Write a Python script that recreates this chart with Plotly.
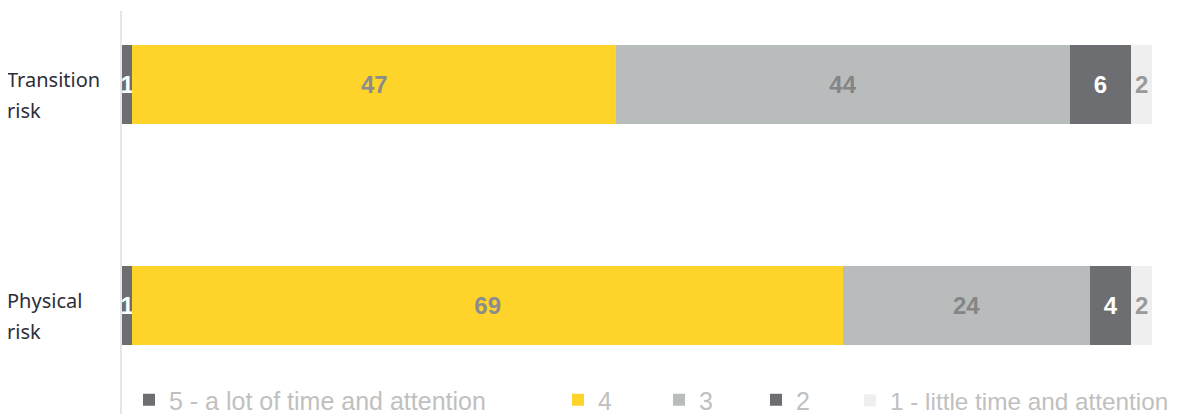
import plotly.graph_objects as go

categories = ["Transition risk", "Physical risk"]
cat_lines = [["Transition", "risk"], ["Physical", "risk"]]
series_names = ["5 - a lot of time and attention", "4", "3", "2", "1 - little time and attention"]
values = {
    "5 - a lot of time and attention": [1, 1],
    "4": [47, 69],
    "3": [44, 24],
    "2": [6, 4],
    "1 - little time and attention": [2, 2],
}
colors = ["#6d6e71", "#fed42a", "#b9bcbd", "#6d6e71", "#efefef"]
label_colors = ["#ffffff", "#8c8c8c", "#858585", "#ffffff", "#9a9a9a"]

# page body has an 8px default margin; compensate so the visible layout matches
OFF = 8
W, H = 1181, 414
plot_left, plot_right, plot_top, plot_bottom = 122, 1152, 11, 414  # screen px
L = plot_left - OFF
T = plot_top - OFF
R = W - (plot_right - OFF)
B = H - (plot_bottom - OFF)
plot_w = plot_right - plot_left
plot_h = plot_bottom - plot_top
legend_px = [129, 558, 659, 756, 850]  # screen px of legend boxes
legend_size = [25, 25, 25, 25, 24.3]

fig = go.Figure()
for i, name in enumerate(series_names):
    lg = "legend" if i == 0 else f"legend{i+1}"
    fig.add_trace(go.Bar(
        y=categories, x=values[name], name=name, orientation="h",
        marker=dict(color=colors[i], line=dict(width=0)),
        width=0.358,
        text=[str(v) for v in values[name]], textposition="inside",
        insidetextanchor="middle", textangle=0, constraintext="none",
        textfont=dict(family="Liberation Sans, Arial, sans-serif", size=24,
                      color=label_colors[i], weight="bold"),
        legend=lg, hoverinfo="skip",
    ))

layout_legends = {}
for i in range(5):
    key = "legend" if i == 0 else f"legend{i+1}"
    layout_legends[key] = dict(
        orientation="h", x=(legend_px[i] - plot_left) / plot_w, xanchor="left",
        y=-9 / plot_h, yanchor="bottom", bgcolor="rgba(0,0,0,0)",
        font=dict(family="Liberation Sans, Arial, sans-serif", size=legend_size[i],
                  color="#c0c0c0"),
        itemclick=False, itemdoubleclick=False,
    )

fig.update_layout(
    width=W, height=H, barmode="stack",
    margin=dict(l=L, r=R, t=T, b=B, pad=0, autoexpand=False),
    paper_bgcolor="white", plot_bgcolor="white",
    showlegend=True,
    xaxis=dict(range=[0, 100], visible=False, fixedrange=True),
    yaxis=dict(type="category", categoryorder="array", categoryarray=categories,
               range=[1.494, -0.333], showticklabels=False, showgrid=False,
               zeroline=False, showline=True, linecolor="#e6e6e6", linewidth=2,
               fixedrange=True),
    **layout_legends,
)

for ci, cat in enumerate(categories):
    for li, (txt, ys) in enumerate(zip(cat_lines[ci], [4.5, -26.5])):
        fig.add_annotation(
            x=0, xref="paper", xanchor="left", xshift=-plot_left + 5,
            y=cat, yref="y", yanchor="middle", yshift=ys,
            text=txt, showarrow=False, align="left",
            font=dict(family="Noto Sans, sans-serif", size=20, color="#2e2e38"),
        )

fig.write_html("out.html")
